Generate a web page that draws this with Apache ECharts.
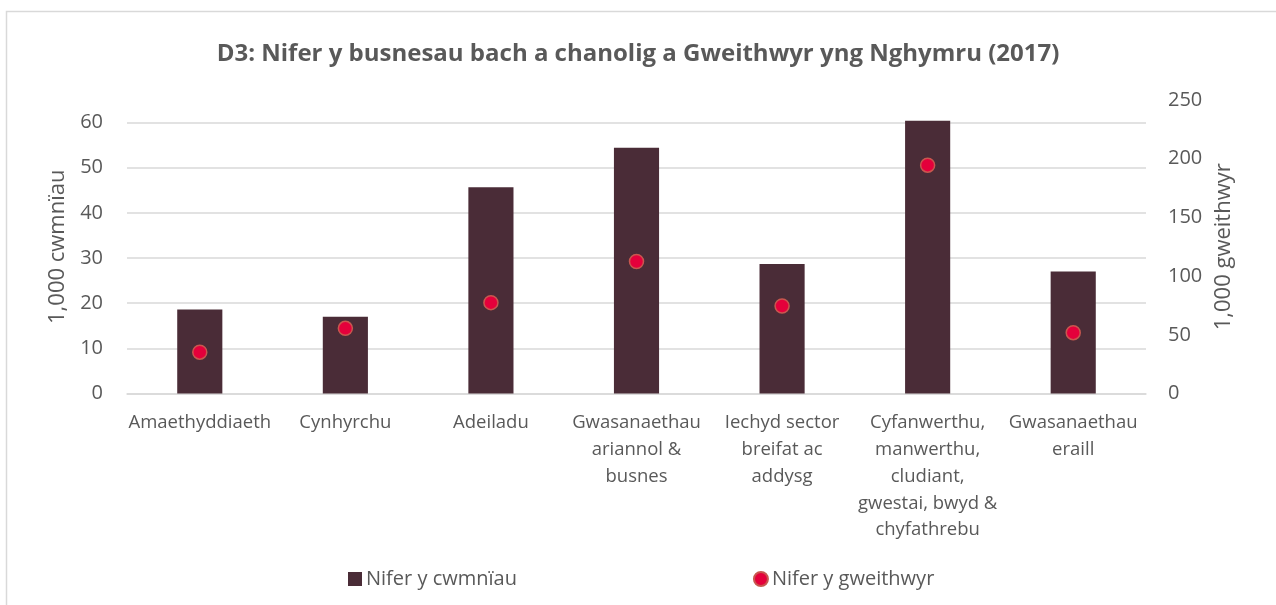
<!DOCTYPE html>
<html>
<head>
<meta charset="utf-8">
<script src="https://cdn.jsdelivr.net/npm/echarts@6/dist/echarts.min.js"></script>
<style>
html,body{margin:0;padding:0;background:#fff;}
#chart{width:1276px;height:605px;}
</style>
</head>
<body>
<div id="chart"></div>
<script>
const categories = [
  'Amaethyddiaeth',
  'Cynhyrchu',
  'Adeiladu',
  'Gwasanaethau\nariannol &\nbusnes',
  'Iechyd sector\nbreifat ac\naddysg',
  'Cyfanwerthu,\nmanwerthu,\ncludiant,\ngwestai, bwyd &\nchyfathrebu',
  'Gwasanaethau\neraill'
];
const cwmniau = [18.6, 17.0, 45.7, 54.4, 28.7, 60.4, 27.0];
const gweithwyr = [35.2, 55.5, 77.4, 112.4, 74.5, 194.5, 51.8];
const seriesNames = ['Nifer y cwmnïau', 'Nifer y gweithwyr'];
const titleText = 'D3: Nifer y busnesau bach a chanolig a Gweithwyr yng Nghymru (2017)';
const leftAxisName = '1,000 cwmnïau';
const rightAxisName = '1,000 gweithwyr';

const FONT = 'Open Sans';
const TXT = '#595959';
const chart = echarts.init(document.getElementById('chart'), null, {renderer: 'canvas'});
chart.setOption({
  backgroundColor: '#ffffff',
  animation: false,
  textStyle: {fontFamily: FONT, color: TXT},
  graphic: [{
    type: 'rect', silent: true, z: -1,
    shape: {x: 6.5, y: 11.5, width: 1400, height: 800},
    style: {fill: 'none', stroke: '#d9d9d9', lineWidth: 1.5}
  }],
  title: {
    text: titleText,
    left: 'center',
    top: 37,
    textStyle: {fontFamily: FONT, fontSize: 24, fontWeight: 'bold', color: TXT}
  },
  legend: {
    top: 564,
    left: 343,
    itemGap: 236,
    itemWidth: 14,
    itemHeight: 14,
    textStyle: {fontFamily: FONT, fontSize: 20, color: TXT, padding: [0, 0, 0, -1]},
    data: [
      {name: seriesNames[0], icon: 'rect'},
      {name: seriesNames[1], icon: 'circle'}
    ]
  },
  grid: {left: 127, right: 130, top: 100, bottom: 211.5, containLabel: false},
  xAxis: {
    type: 'category',
    data: categories,
    axisLine: {show: true, lineStyle: {color: '#d9d9d9', width: 1.5}},
    axisTick: {show: false},
    axisLabel: {
      interval: 0, margin: 16, fontFamily: FONT, fontSize: 18.5, color: TXT,
      lineHeight: 26.8
    }
  },
  yAxis: [{
    type: 'value',
    min: 0, max: 65, interval: 10,
    name: leftAxisName,
    nameLocation: 'middle',
    nameRotate: 90,
    nameGap: 58,
    nameTextStyle: {fontFamily: FONT, fontSize: 22, color: TXT},
    axisLine: {show: false},
    axisTick: {show: false},
    axisLabel: {margin: 24, fontFamily: FONT, fontSize: 20, color: TXT, showMaxLabel: false},
    splitLine: {show: true, showMaxLine: false, lineStyle: {color: '#d9d9d9', width: 1.5}}
  }, {
    type: 'value',
    min: 0, max: 250, interval: 50,
    name: rightAxisName,
    nameLocation: 'middle',
    nameRotate: 90,
    nameGap: 66,
    nameTextStyle: {fontFamily: FONT, fontSize: 22, color: TXT},
    axisLine: {show: false},
    axisTick: {show: false},
    axisLabel: {margin: 22, fontFamily: FONT, fontSize: 20, color: TXT},
    splitLine: {show: false}
  }],
  series: [{
    name: seriesNames[0],
    type: 'bar',
    yAxisIndex: 0,
    data: cwmniau,
    barWidth: '31%',
    itemStyle: {color: '#4a2c37'}
  }, {
    name: seriesNames[1],
    type: 'scatter',
    yAxisIndex: 1,
    data: gweithwyr,
    symbol: 'circle',
    symbolSize: 14,
    z: 5,
    itemStyle: {color: '#e4003b', borderColor: '#c8574f', borderWidth: 1.5, opacity: 1}
  }]
});
</script>
</body>
</html>
